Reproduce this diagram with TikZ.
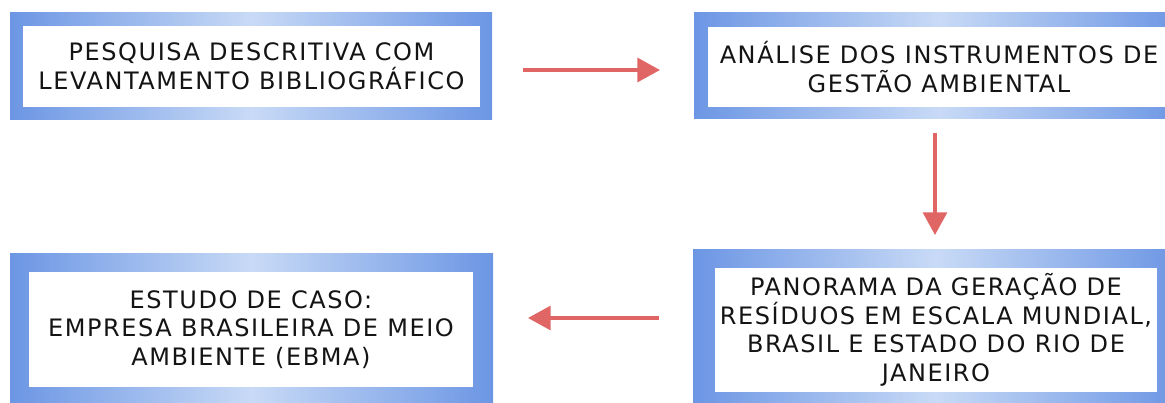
\documentclass[tikz,border=0pt]{standalone}
\usepackage{fontspec}
\setmainfont{DejaVu Sans}[LetterSpace=6.5]
\usetikzlibrary{arrows.meta}
\definecolor{bdark}{RGB}{108,150,228}
\definecolor{blight}{RGB}{200,218,246}
\definecolor{arrred}{RGB}{224,102,102}
\definecolor{txt}{RGB}{20,20,20}
\begin{document}
\begin{tikzpicture}[x=0.75pt,y=-0.75pt,
  frame/.style={inner sep=0pt, outer sep=0pt, left color=bdark, right color=bdark, middle color=blight},
  inbox/.style={fill=white, inner sep=0pt, outer sep=0pt, align=center, text=txt,
    font=\fontsize{18}{21.5}\selectfont},
  arr/.style={draw=arrred, line width=2.4pt, -{Triangle[length=17pt,width=18pt]}}]
\useasboundingbox (0,0) rectangle (1165,403);
\clip (0,0) rectangle (1165,403);
% box 1
\node[frame, minimum width={482*0.75pt}, minimum height={107*0.75pt}] (b1) at (251,66.5) {};
\node[inbox, minimum width={457*0.75pt}, minimum height={81*0.75pt}] (t1) at (251.5,66.5)
  {PESQUISA DESCRITIVA COM\\LEVANTAMENTO BIBLIOGRÁFICO};
% box 2
\node[frame, minimum width={490*0.75pt}, minimum height={106*0.75pt}] (b2) at (939,66) {};
\node[inbox, minimum width={462*0.75pt}, minimum height={80*0.75pt}] (t2) at (939,67)
  {ANÁLISE DOS INSTRUMENTOS DE\\GESTÃO AMBIENTAL};
% box 3
\node[frame, minimum width={483*0.75pt}, minimum height={153*0.75pt}] (b3) at (251.5,329.5) {};
\node[inbox, minimum width={444*0.75pt}, minimum height={115*0.75pt}] (t3) at (251,329.5)
  {ESTUDO DE CASO:\\EMPRESA BRASILEIRA DE MEIO\\AMBIENTE (EBMA)};
% box 4
\node[frame, minimum width={486*0.75pt}, minimum height={162*0.75pt}] (b4) at (936,330) {};
\node[inbox, minimum width={442*0.75pt}, minimum height={124*0.75pt}] (t4) at (936,330)
  {PANORAMA DA GERAÇÃO DE\\RESÍDUOS EM ESCALA MUNDIAL,\\BRASIL E ESTADO DO RIO DE\\JANEIRO};
% arrows
\draw[arr, shorten <={31*0.75pt}, shorten >={34*0.75pt}] ([yshift={-3.5*0.75pt}]b1.east) -- ([yshift={-4*0.75pt}]b2.west);
\draw[arr, shorten <={14*0.75pt}, shorten >={14*0.75pt}] ([xshift={-4*0.75pt}]b2.south) -- ([xshift={-4*0.75pt}]b2.south |- b4.north);
\draw[arr, shorten <={34*0.75pt}, shorten >={35*0.75pt}] ([yshift={12*0.75pt}]b4.west) -- ([yshift={11.5*0.75pt}]b3.east);
\end{tikzpicture}
\end{document}
